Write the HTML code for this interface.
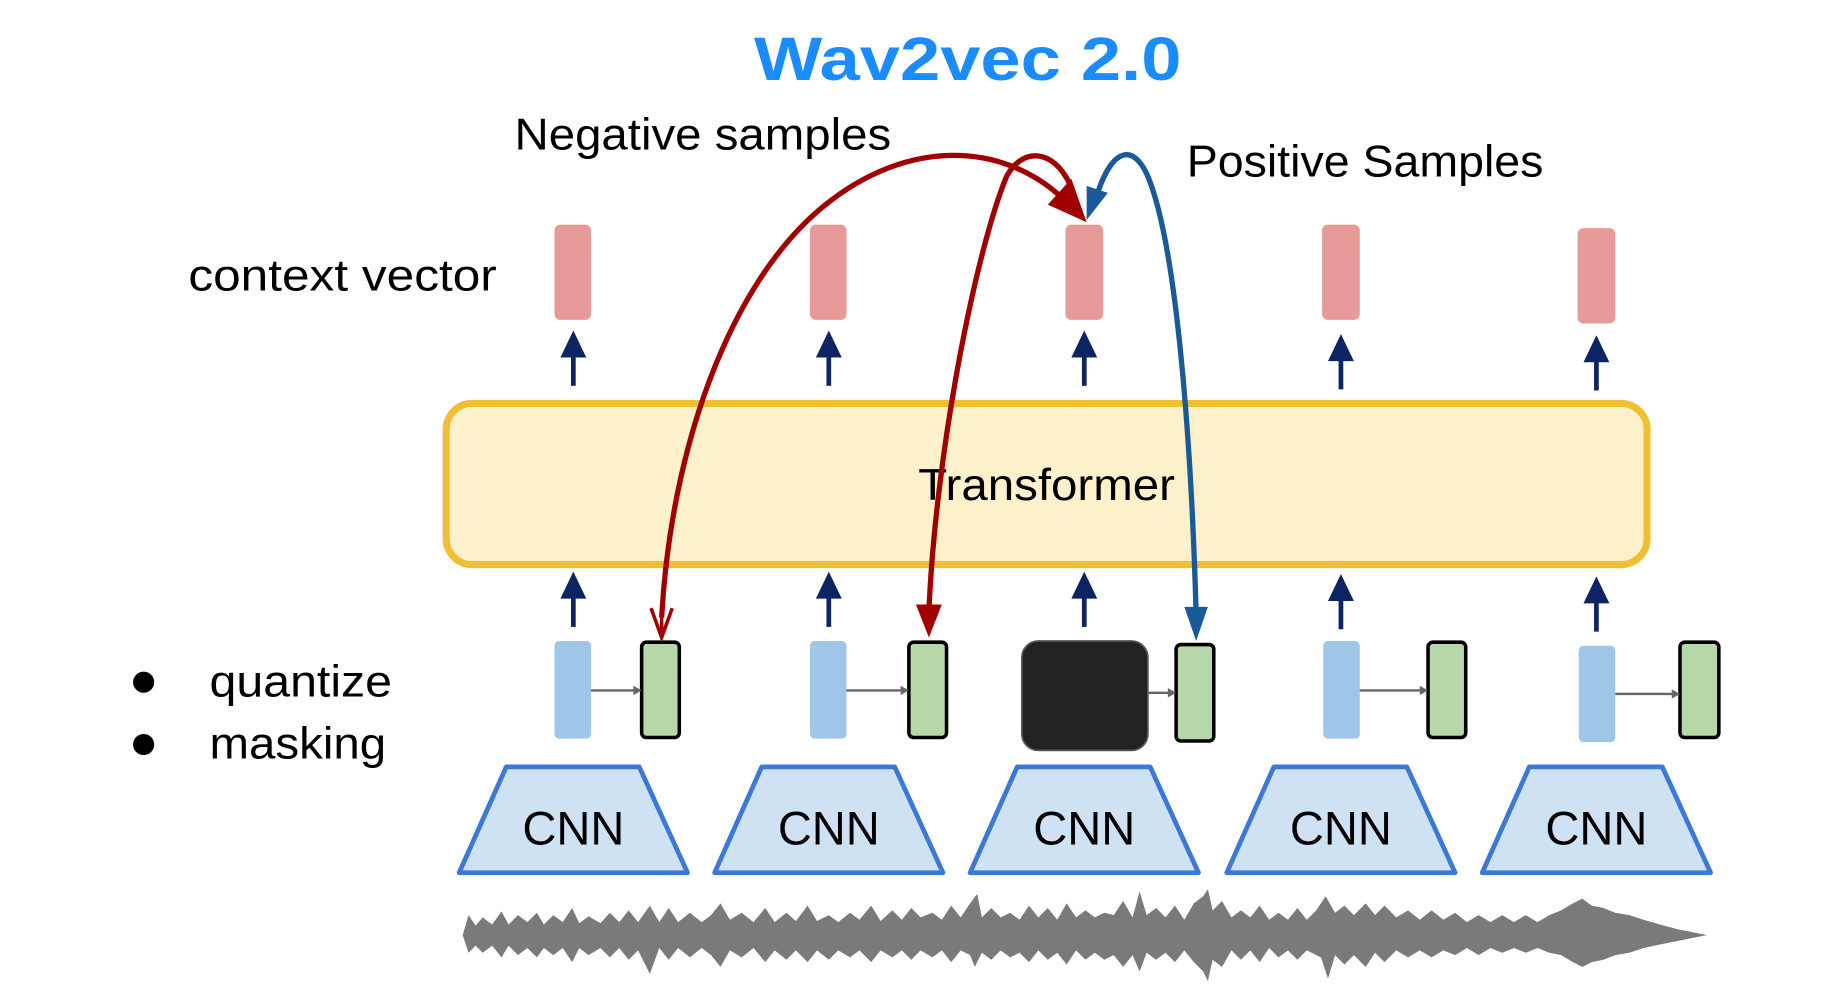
<!DOCTYPE html>
<html><head><meta charset="utf-8"><style>
html,body{margin:0;padding:0;background:#fff;}
svg{display:block;}
text{font-family:"Liberation Sans",sans-serif;}
</style></head><body>
<svg width="1846" height="988" viewBox="0 0 1568 840" preserveAspectRatio="none" xmlns="http://www.w3.org/2000/svg">
<rect width="1568" height="840" fill="#fff"/>
<text x="822" y="68" text-anchor="middle" font-size="52" font-weight="bold" fill="#1a8cff" textLength="363" lengthAdjust="spacingAndGlyphs">Wav2vec 2.0</text>
<text x="437" y="127" font-size="38" fill="#000" textLength="320" lengthAdjust="spacingAndGlyphs">Negative samples</text>
<text x="1008" y="150" font-size="38" fill="#000" textLength="303" lengthAdjust="spacingAndGlyphs">Positive Samples</text>
<text x="160" y="247" font-size="38" fill="#000" textLength="262" lengthAdjust="spacingAndGlyphs">context vector</text>
<circle cx="122" cy="580" r="9" fill="#000"/>
<circle cx="122" cy="633" r="9" fill="#000"/>
<text x="178" y="592" font-size="38" fill="#000" textLength="155" lengthAdjust="spacingAndGlyphs">quantize</text>
<text x="178" y="645" font-size="38" fill="#000" textLength="150" lengthAdjust="spacingAndGlyphs">masking</text>

<g fill="#e89a98">
<rect x="471" y="191" width="31" height="81" rx="5"/>
<rect x="688" y="191" width="31" height="81" rx="5"/>
<rect x="905" y="191" width="32" height="81" rx="5"/>
<rect x="1123" y="191" width="32" height="81" rx="5"/>
<rect x="1340" y="194" width="32" height="81" rx="5"/>
</g>
<g fill="#0c2463" stroke="#0c2463">
<g id="ua"><line x1="487" y1="328" x2="487" y2="300" stroke-width="4"/><polygon points="487,281 476,304 498,304" stroke="none"/></g>
<use href="#ua" x="217"/><use href="#ua" x="434"/><use href="#ua" x="652" y="3"/><use href="#ua" x="869" y="4"/>
<use href="#ua" y="205"/><use href="#ua" x="217" y="205"/><use href="#ua" x="434" y="205"/><use href="#ua" x="652" y="207"/><use href="#ua" x="869" y="209"/>
</g>

<rect x="379" y="343" width="1020" height="137" rx="22" fill="#fdf1cc" stroke="#f0c033" stroke-width="6"/>
<text x="780" y="425" font-size="38" fill="#000" textLength="218" lengthAdjust="spacingAndGlyphs">Transformer</text>

<g fill="#9fc5e8">
<rect x="471" y="545" width="31" height="83" rx="4"/>
<rect x="688" y="545" width="31" height="83" rx="4"/>
<rect x="1124" y="545" width="31" height="83" rx="4"/>
<rect x="1341" y="549" width="31" height="82" rx="4"/>
</g>
<rect x="868" y="545" width="107" height="93" rx="14" fill="#222" stroke="#555" stroke-width="1.5"/>
<g fill="#b6d7a8" stroke="#000" stroke-width="3">
<rect x="545" y="546" width="32" height="81" rx="4"/>
<rect x="772" y="546" width="32" height="81" rx="4"/>
<rect x="999" y="548" width="32" height="82" rx="4"/>
<rect x="1213" y="546" width="32" height="81" rx="4"/>
<rect x="1427" y="546" width="33" height="81" rx="4"/>
</g>
<g stroke="#666" stroke-width="2" fill="#666">
<line x1="502" y1="587" x2="540" y2="587"/><polygon points="545,587 538,583 538,591" stroke="none"/>
<line x1="719" y1="587" x2="767" y2="587"/><polygon points="772,587 765,583 765,591" stroke="none"/>
<line x1="975" y1="589" x2="994" y2="589"/><polygon points="999,589 992,585 992,593" stroke="none"/>
<line x1="1155" y1="587" x2="1208" y2="587"/><polygon points="1213,587 1206,583 1206,591" stroke="none"/>
<line x1="1372" y1="590" x2="1422" y2="590"/><polygon points="1427,590 1420,586 1420,594" stroke="none"/>
</g>

<g fill="#cfe2f3" stroke="#3c78d8" stroke-width="4" stroke-linejoin="round">
<polygon points="430,652 543,652 584,742 390,742"/>
<polygon points="647,652 760,652 801,742 607,742"/>
<polygon points="864,652 977,652 1018,742 824,742"/>
<polygon points="1082,652 1195,652 1236,742 1042,742"/>
<polygon points="1299,652 1412,652 1453,742 1259,742"/>
</g>
<g font-size="40" text-anchor="middle" fill="#000">
<text x="487" y="718">CNN</text><text x="704" y="718">CNN</text><text x="921" y="718">CNN</text><text x="1139" y="718">CNN</text><text x="1356" y="718">CNN</text>
</g>

<polygon fill="#7a7a7a" points="393,795 398,778 404,787 410,780 418,786 426,775 432,786 440,778 448,784 456,776 462,786 470,778 478,784 486,772 492,785 500,779 510,785 518,776 526,784 534,774 542,784 552,770 560,784 568,772 576,784 586,776 596,784 604,778 612,768 620,782 630,776 640,784 650,772 658,784 668,776 676,783 686,770 694,783 704,778 712,784 722,776 730,782 740,770 748,783 758,774 766,782 774,772 782,780 792,776 800,782 808,770 816,780 824,768 830,760 834,780 842,772 850,780 858,776 866,782 874,770 882,780 890,772 898,782 906,768 914,780 922,774 930,780 938,776 946,778 954,766 962,780 968,758 974,778 982,772 990,780 998,770 1006,782 1014,768 1022,762 1026,756 1030,774 1038,766 1046,780 1054,774 1062,780 1070,770 1078,782 1086,776 1094,782 1102,772 1110,782 1118,774 1126,762 1134,776 1142,770 1150,778 1160,768 1168,778 1176,770 1186,780 1196,774 1206,782 1216,774 1226,782 1236,776 1246,784 1256,778 1266,784 1276,778 1286,784 1296,778 1306,784 1316,778 1326,774 1336,768 1344,764 1352,770 1362,772 1372,776 1384,778 1396,782 1410,786 1425,790 1440,793 1450,795 1440,797 1425,800 1410,803 1396,806 1384,810 1372,812 1362,816 1352,818 1344,822 1336,818 1326,812 1316,810 1306,806 1296,810 1286,806 1276,810 1266,806 1256,812 1246,806 1236,812 1226,808 1216,814 1206,808 1196,814 1186,808 1176,818 1168,810 1160,822 1150,812 1142,820 1134,812 1128,832 1122,814 1110,808 1102,816 1094,808 1086,814 1078,806 1070,818 1062,808 1054,816 1046,808 1038,822 1030,816 1026,834 1022,826 1014,818 1006,808 998,818 990,810 982,816 974,810 968,826 962,812 954,822 946,812 938,816 930,810 922,816 914,808 906,820 898,810 890,816 882,808 874,818 866,810 858,814 850,808 842,816 834,810 828,822 824,812 816,808 808,818 800,808 792,814 782,808 774,816 766,808 758,814 748,808 740,818 730,808 722,814 712,808 704,816 694,808 686,818 676,808 668,816 658,808 650,818 640,806 630,814 620,808 612,822 604,812 596,806 586,814 576,806 568,816 560,806 552,828 542,808 534,816 526,806 518,814 510,806 500,812 492,806 486,818 478,806 470,812 462,806 456,814 448,806 440,812 432,804 426,814 418,804 410,810 404,804 398,810"/>

<g fill="none" stroke="#a00000" stroke-width="4.5">
<path d="M562,525 C570,380 620,240 700,175 C770,118 850,120 902,168"/>
<path d="M912,165 C900,128 870,122 855,150 C830,210 795,380 789,520"/>
</g>
<polygon points="923,189 890,174 910,152" fill="#a00000"/>
<polygon points="789,542 778,514 800,514" fill="#a00000"/>
<path d="M553,517 L562,542 L571,517" fill="none" stroke="#a00000" stroke-width="3"/>
<line x1="562" y1="542" x2="562" y2="520" stroke="#a00000" stroke-width="3"/>
<path d="M1016,522 C1012,380 1000,210 975,150 C963,122 945,125 932,165" fill="none" stroke="#1a5a9a" stroke-width="4.5"/>
<polygon points="923,187 923,158 941,164" fill="#1a5a9a"/>
<polygon points="1016,545 1006,516 1026,516" fill="#1a5a9a"/>
</svg>
</body></html>
